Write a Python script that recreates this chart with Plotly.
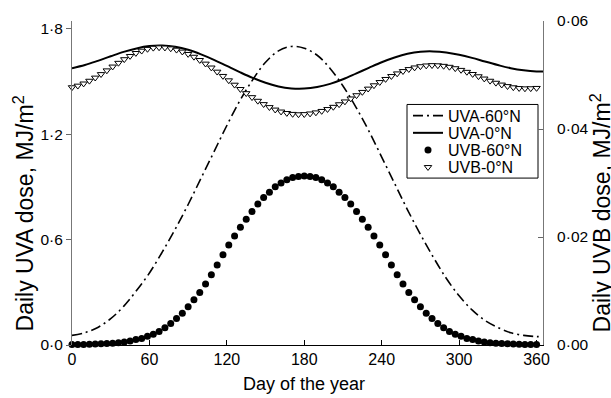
import plotly.graph_objects as go

# ---------------- data ----------------
line_days = [0, 10, 20, 30, 40, 50, 60, 70, 80, 90, 100, 110, 120, 130, 140, 150, 160, 170, 180,
             190, 200, 210, 220, 230, 240, 250, 260, 270, 280, 290, 300, 310, 320, 330, 340, 350, 360, 365]
uva_60n = [0.055, 0.07, 0.10, 0.15, 0.22, 0.31, 0.41, 0.53, 0.66, 0.80, 0.95, 1.10, 1.25, 1.39, 1.51,
           1.61, 1.675, 1.70, 1.69, 1.65, 1.575, 1.475, 1.355, 1.22, 1.07, 0.92, 0.77, 0.63, 0.50,
           0.38, 0.28, 0.20, 0.14, 0.10, 0.07, 0.055, 0.048, 0.047]
uva_0n = [1.576, 1.594, 1.618, 1.644, 1.669, 1.689, 1.702, 1.705, 1.698, 1.681, 1.655, 1.624, 1.589,
          1.554, 1.521, 1.493, 1.472, 1.461, 1.460, 1.469, 1.487, 1.513, 1.545, 1.578, 1.610, 1.637,
          1.658, 1.670, 1.672, 1.666, 1.653, 1.635, 1.614, 1.594, 1.576, 1.564, 1.558, 1.558]

marker_days = [0, 4.5, 9, 13.5, 18, 22.5, 27, 31.5, 36, 40.5, 45, 49.5, 54, 58.5, 63, 67.5, 72, 76.5,
               81, 85.5, 90, 94.5, 99, 103.5, 108, 112.5, 117, 121.5, 126, 130.5, 135, 139.5, 144,
               148.5, 153, 157.5, 162, 166.5, 171, 175.5, 180, 184.5, 189, 193.5, 198, 202.5, 207,
               211.5, 216, 220.5, 225, 229.5, 234, 238.5, 243, 247.5, 252, 256.5, 261, 265.5, 270,
               274.5, 279, 283.5, 288, 292.5, 297, 301.5, 306, 310.5, 315, 319.5, 324, 328.5, 333,
               337.5, 342, 346.5, 351, 355.5, 360]
uvb_60n = [0.00008, 0.00009, 0.00011, 0.00015, 0.00019, 0.00022, 0.00027, 0.00032, 0.00043, 0.00057,
           0.00075, 0.0010, 0.0012, 0.0016, 0.0020, 0.0025, 0.0032, 0.0040, 0.0049, 0.0059, 0.0071,
           0.0084, 0.0097, 0.0113, 0.0130, 0.0148, 0.0167, 0.0185, 0.0202, 0.0218, 0.0233, 0.0247,
           0.0261, 0.0273, 0.0283, 0.0293, 0.0300, 0.0306, 0.0310, 0.0312, 0.0313,
           0.0312, 0.0310, 0.0306, 0.0300, 0.0293, 0.0283, 0.0273, 0.0261, 0.0247, 0.0233, 0.0218,
           0.0202, 0.0185, 0.0167, 0.0148, 0.0130, 0.0113, 0.0097, 0.0084, 0.0071, 0.0059, 0.0049,
           0.0040, 0.0032, 0.0025, 0.0020, 0.0016, 0.0012, 0.0010, 0.00075, 0.00057, 0.00043,
           0.00032, 0.00027, 0.00022, 0.00019, 0.00015, 0.00011, 0.00009, 0.00008]
uvb_0n = [0.04771, 0.0480, 0.0484, 0.04891, 0.04949, 0.05014, 0.05083, 0.05154, 0.05223, 0.0529,
          0.0535, 0.05405, 0.05448, 0.05481, 0.05502, 0.0551, 0.05506, 0.05491, 0.05466, 0.05431,
          0.05387, 0.05335, 0.05275, 0.05208, 0.05136, 0.05059, 0.0498, 0.04899, 0.04818, 0.04738,
          0.04661, 0.04587, 0.0452, 0.04458, 0.04403, 0.04357, 0.04321, 0.04294, 0.04277, 0.0427,
          0.04273, 0.04285, 0.04305, 0.04332, 0.04367, 0.04408, 0.04456, 0.04508, 0.04563, 0.04623,
          0.04684, 0.04745, 0.04807, 0.04867, 0.04924, 0.04978, 0.05027, 0.0507, 0.05107, 0.05137,
          0.0516, 0.05174, 0.0518, 0.05177, 0.05167, 0.05149, 0.05123, 0.05092, 0.05056, 0.05016,
          0.04974, 0.04932, 0.04891, 0.04854, 0.0482, 0.04792, 0.0477, 0.04756, 0.0475, 0.04752,
          0.04758]

series_names = ["UVA-60°N", "UVA-0°N", "UVB-60°N", "UVB-0°N"]
x_ticks = [0, 60, 120, 180, 240, 300, 360]
y1_ticks = [0, 0.6, 1.2, 1.8]
y1_labels = ["0·0", "0·6", "1·2", "1·8"]
y2_ticks = [0, 0.02, 0.04, 0.06]
y2_labels = ["0·00", "0·02", "0·04", "0·06"]

FONT = "Liberation Sans, Arial, sans-serif"

fig = go.Figure()
fig.add_trace(go.Scatter(x=line_days, y=uva_60n, name=series_names[0], mode="lines",
                         line=dict(color="black", width=1.6, dash="10px,4px,2px,4px", shape="spline"),
                         legend="legend"))
fig.add_trace(go.Scatter(x=line_days, y=uva_0n, name=series_names[1], mode="lines",
                         line=dict(color="black", width=2, shape="spline"), legend="legend2"))
fig.add_trace(go.Scatter(x=marker_days, y=uvb_60n, name=series_names[2], mode="markers", yaxis="y2",
                         marker=dict(symbol="circle", size=7, color="black"), cliponaxis=False,
                         legend="legend3"))
fig.add_trace(go.Scatter(x=marker_days, y=uvb_0n, name=series_names[3], mode="markers", yaxis="y2",
                         marker=dict(symbol="triangle-down", size=6.5, color="white",
                                     line=dict(color="black", width=1)), cliponaxis=False,
                         legend="legend4"))

L, R, T, B = 72, 68, 15, 53
W, H = 611, 398
pw, ph = W - L - R, H - T - B


def px(xp):
    return (xp - L) / pw


def py(yp):
    return (H - B - yp) / ph


leg_common = dict(xanchor="left", yanchor="middle", bgcolor="rgba(0,0,0,0)", borderwidth=0,
                  font=dict(family=FONT, size=16, color="black"))
rows = [111.5, 129, 146.5, 164]
legend_x = px(408)

fig.update_layout(
    width=W, height=H,
    margin=dict(l=L, r=R, t=T, b=B, pad=0),
    paper_bgcolor="white", plot_bgcolor="white",
    font=dict(family=FONT, size=15, color="black"),
    showlegend=True,
    legend=dict(x=legend_x, y=py(rows[0]), **leg_common),
    legend2=dict(x=legend_x, y=py(rows[1]), **leg_common),
    legend3=dict(x=legend_x, y=py(rows[2]), **leg_common),
    legend4=dict(x=legend_x, y=py(rows[3]), **leg_common),
    xaxis=dict(range=[0, 365], tickvals=x_ticks, ticks="inside", ticklen=5, tickcolor="black",
               showline=True, linecolor="black", linewidth=1, showgrid=False, zeroline=False,
               tickfont=dict(size=16)),
    yaxis=dict(range=[0, 1.845], tickvals=y1_ticks, ticktext=y1_labels, ticks="outside", ticklen=5,
               tickcolor="#666", showline=True, linecolor="#777", linewidth=1, showgrid=False,
               zeroline=False, tickfont=dict(size=15.5)),
    yaxis2=dict(range=[0, 0.06], tickvals=y2_ticks, ticktext=y2_labels, ticks="inside", ticklen=5,
                tickcolor="#666", showline=True, linecolor="#777", linewidth=1, showgrid=False,
                zeroline=False, overlaying="y", side="right", tickfont=dict(size=15.5),
                ticklabelstandoff=10),
    shapes=[dict(type="rect", xref="paper", yref="paper", x0=px(407), x1=px(538), y0=py(175),
                 y1=py(100), line=dict(color="black", width=1), fillcolor="white", layer="below")],
    annotations=[
        dict(text="Day of the year", xref="paper", yref="paper", x=px(304), y=py(385),
             xanchor="center", yanchor="middle", showarrow=False, font=dict(size=18)),
        dict(text="Daily UVA dose, MJ/m<sup>2</sup>", xref="paper", yref="paper", x=px(24), y=py(211),
             xanchor="center", yanchor="middle", textangle=-90, showarrow=False, font=dict(size=23)),
        dict(text="Daily UVB dose, MJ/m<sup>2</sup>", xref="paper", yref="paper", x=px(601), y=py(211),
             xanchor="center", yanchor="middle", textangle=-90, showarrow=False, font=dict(size=23)),
    ],
)

fig.write_html("out.html")
